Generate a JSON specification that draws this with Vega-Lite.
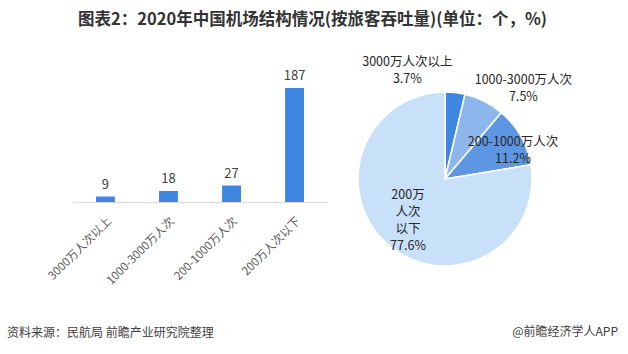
{
  "$schema": "https://vega.github.io/schema/vega-lite/v6.json",
  "background": "white",
  "padding": {"left": 7, "top": 12, "right": 0, "bottom": 0},
  "title": {"text": "图表2：2020年中国机场结构情况(按旅客吞吐量)(单位：个，%)", "fontSize": 16.5, "fontWeight": "bold", "color": "#333333", "anchor": "middle", "offset": 27, "font": "Noto Sans CJK SC"},
  "datasets": {
    "airports": [
      {"cat": "3000万人次以上", "n": 9},
      {"cat": "1000-3000万人次", "n": 18},
      {"cat": "200-1000万人次", "n": 27},
      {"cat": "200万人次以下", "n": 187}
    ],
    "shares": [
      {"id": 1, "cat": "3000万人次以上", "pct": 3.7, "label": "3000万人次以上\n3.7%"},
      {"id": 2, "cat": "1000-3000万人次", "pct": 7.5, "label": "1000-3000万人次\n7.5%"},
      {"id": 3, "cat": "200-1000万人次", "pct": 11.2, "label": "200-1000万人次\n11.2%"},
      {"id": 4, "cat": "200万人次以下", "pct": 77.6, "label": "200万\n人次\n以下\n77.6%"}
    ]
  },
  "spacing": 28,
  "hconcat": [
    {
      "width": 254,
      "height": 122,
      "data": {"name": "airports"},
      "title": {"text": "资料来源：民航局 前瞻产业研究院整理", "orient": "bottom", "anchor": "start", "frame": "group", "dx": -66, "offset": 42, "fontSize": 12, "fontWeight": "normal", "color": "#404040"},
      "encoding": {
        "x": {"field": "cat", "type": "nominal", "sort": null, "scale": {"paddingInner": 0.7, "paddingOuter": 0.365},
          "axis": {"title": null, "labelAngle": -45, "ticks": false, "domainColor": "#D9D9D9", "labelColor": "#595959", "labelFontSize": 11.5, "labelPadding": 13}},
        "y": {"field": "n", "type": "quantitative", "scale": {"domain": [0, 200]}, "axis": null}
      },
      "layer": [
        {"mark": {"type": "bar", "color": "#3E86E0"}},
        {"mark": {"type": "text", "baseline": "bottom", "dy": -5, "fontSize": 13, "color": "#404040"}, "encoding": {"text": {"field": "n", "type": "quantitative"}}}
      ]
    },
    {
      "width": 174,
      "height": 198,
      "data": {"name": "shares"},
      "title": {"text": "@前瞻经济学人APP", "orient": "bottom", "anchor": "end", "frame": "group", "dx": 86, "offset": 49, "fontSize": 12, "fontWeight": "normal", "color": "#404040"},
      "layer": [
        {"mark": {"type": "arc", "outerRadius": 87, "stroke": "white", "strokeWidth": 1.5},
          "encoding": {
            "theta": {"field": "pct", "type": "quantitative", "stack": true},
            "order": {"field": "id", "type": "quantitative"},
            "color": {"field": "cat", "type": "nominal", "sort": null, "legend": null,
              "scale": {"domain": ["3000万人次以上", "1000-3000万人次", "200-1000万人次", "200万人次以下"], "range": ["#3E86E0", "#8DB6EC", "#5D97E3", "#C9E0F9"]}}}},
        {"transform": [{"window": [{"op": "sum", "field": "pct", "as": "cum"}], "sort": [{"field": "id", "order": "ascending"}], "frame": [null, 0]}, {"filter": "datum.id === 1"}],
          "mark": {"type": "text", "radius": 110, "dx": -63, "dy": -10, "fontSize": 12.5, "lineBreak": "\n", "lineHeight": 17, "color": "#262626"},
          "encoding": {"theta": {"field": "cum", "type": "quantitative"}, "text": {"field": "label", "type": "nominal"}}},
        {"transform": [{"window": [{"op": "sum", "field": "pct", "as": "cum"}], "sort": [{"field": "id", "order": "ascending"}], "frame": [null, 0]}, {"filter": "datum.id === 2"}],
          "mark": {"type": "text", "radius": 115, "dx": 4, "dy": -11, "fontSize": 12.5, "lineBreak": "\n", "lineHeight": 17, "color": "#262626"},
          "encoding": {"theta": {"field": "cum", "type": "quantitative"}, "text": {"field": "label", "type": "nominal"}}},
        {"transform": [{"window": [{"op": "sum", "field": "pct", "as": "cum"}], "sort": [{"field": "id", "order": "ascending"}], "frame": [null, 0]}, {"filter": "datum.id === 3"}],
          "mark": {"type": "text", "radius": 74, "dx": -5, "dy": -25, "fontSize": 12.5, "lineBreak": "\n", "lineHeight": 17, "color": "#262626"},
          "encoding": {"theta": {"field": "cum", "type": "quantitative"}, "text": {"field": "label", "type": "nominal"}}},
        {"transform": [{"window": [{"op": "sum", "field": "pct", "as": "cum"}], "sort": [{"field": "id", "order": "ascending"}], "frame": [null, 0]}, {"filter": "datum.id === 4"}],
          "mark": {"type": "text", "radius": 0, "dx": -37, "dy": 16, "fontSize": 12.5, "lineBreak": "\n", "lineHeight": 17, "color": "#262626"},
          "encoding": {"theta": {"field": "cum", "type": "quantitative"}, "text": {"field": "label", "type": "nominal"}}}
      ]
    }
  ],
  "config": {"view": {"stroke": null}, "font": "Noto Sans CJK SC"}
}
